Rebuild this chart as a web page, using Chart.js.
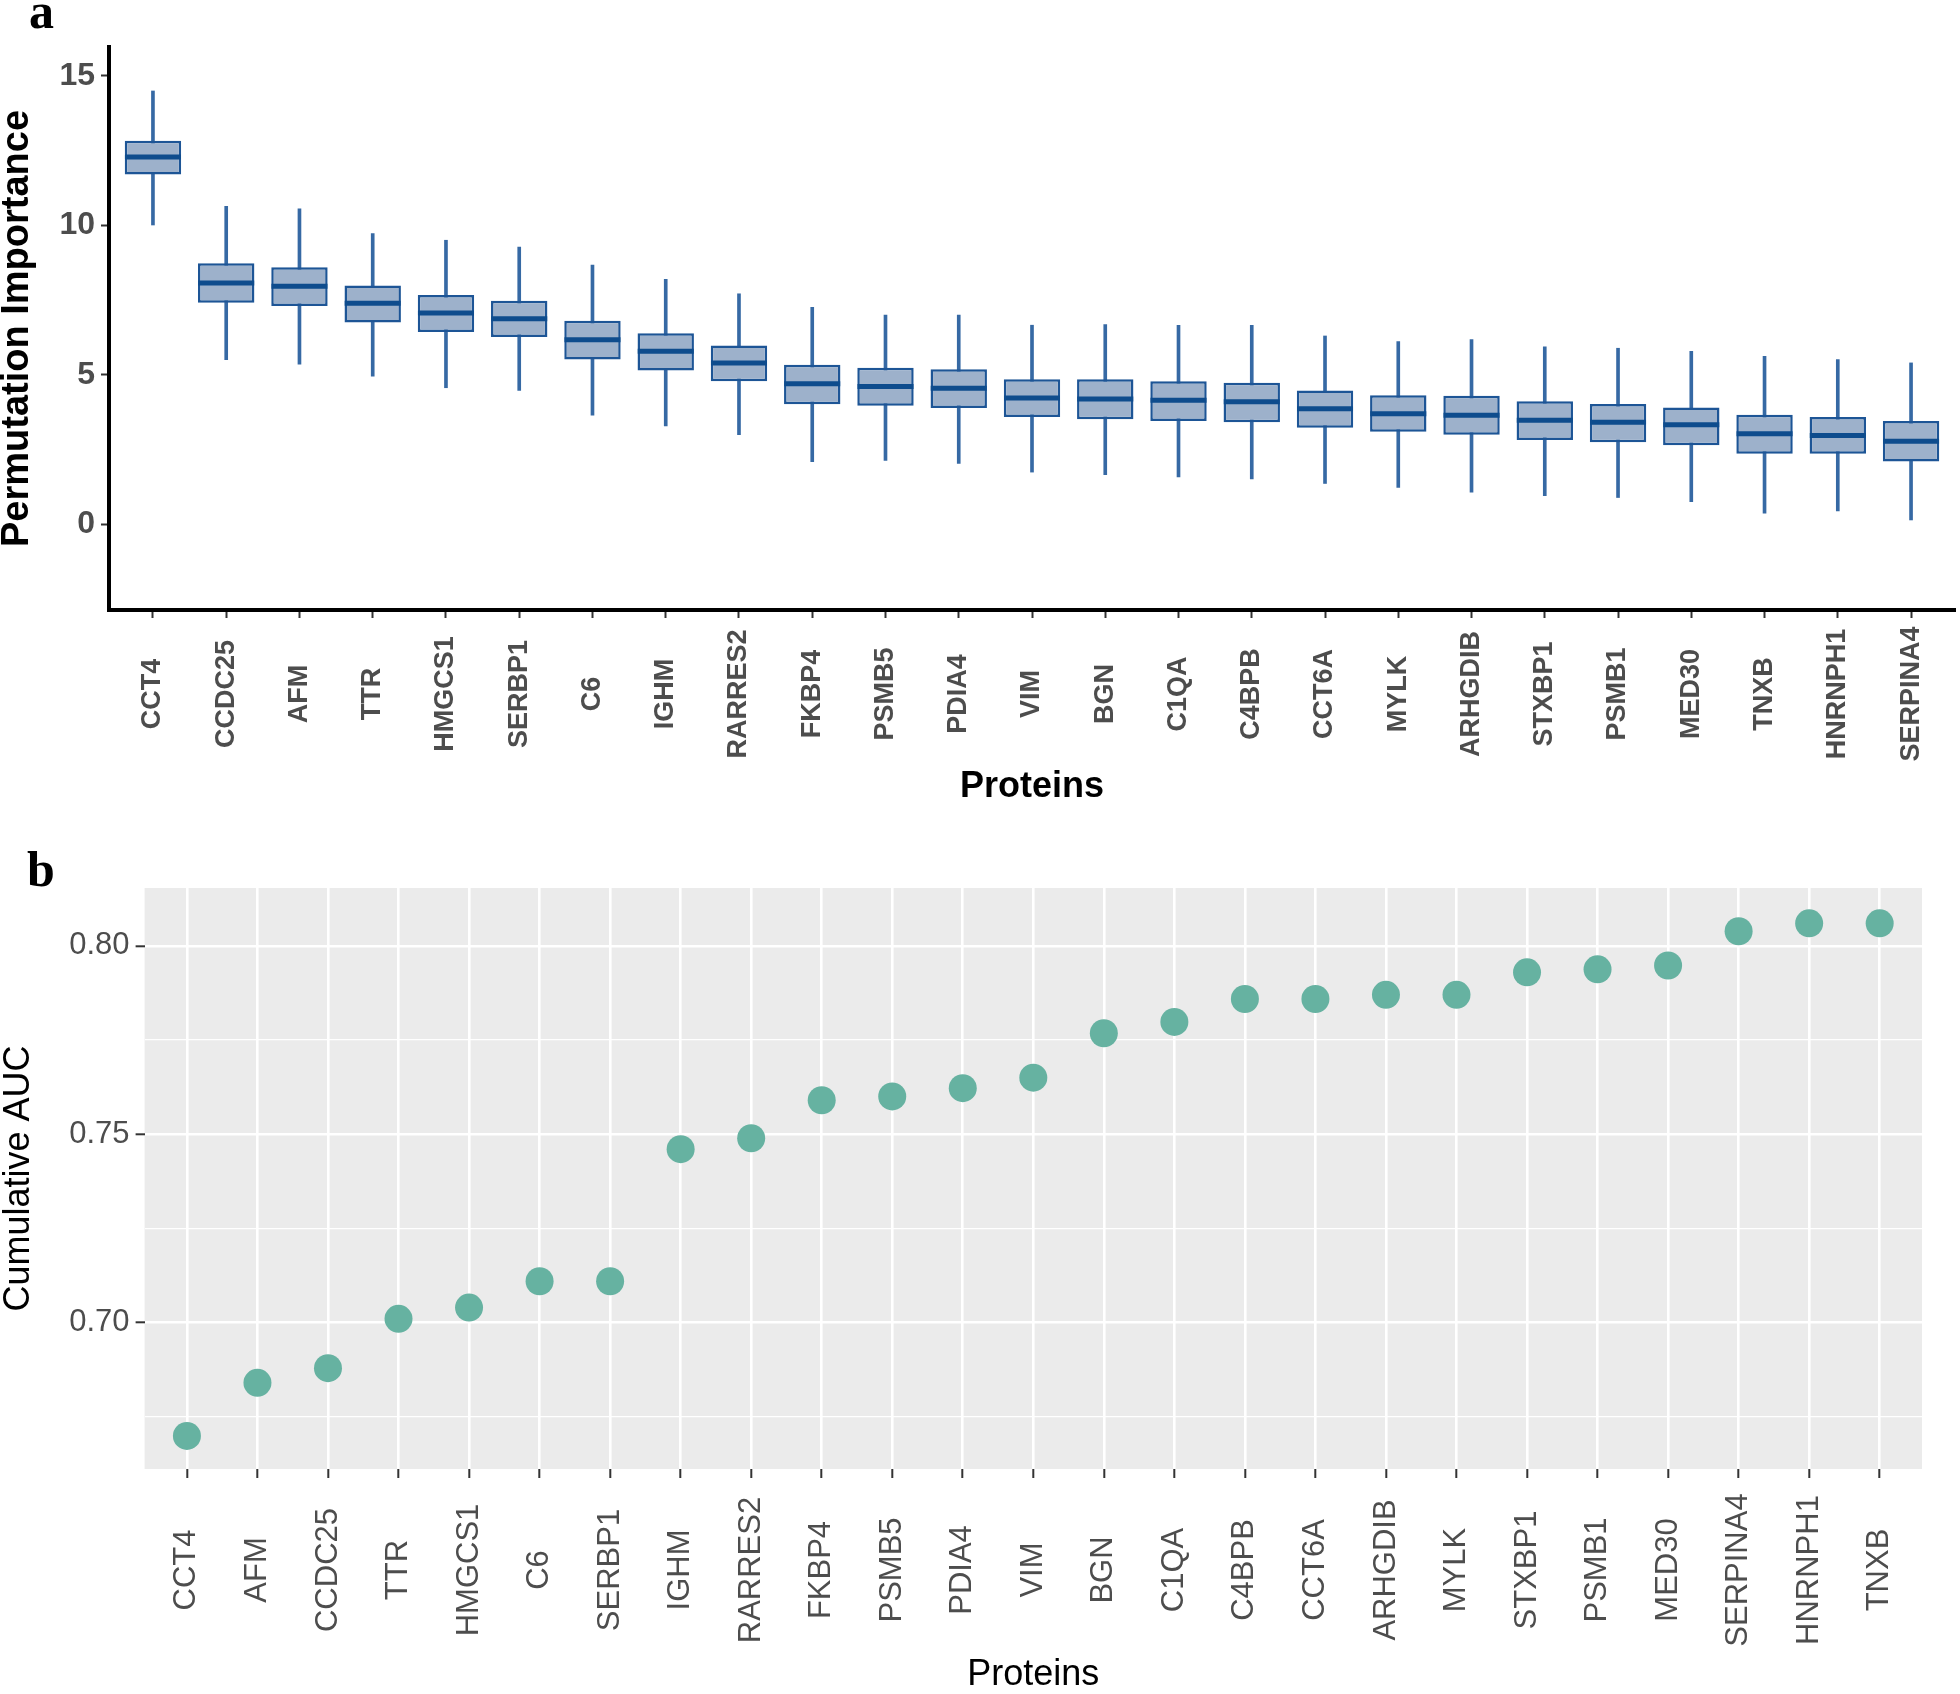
<!DOCTYPE html>
<html lang="en">
<head>
  <meta charset="UTF-8">
  <title>Permutation importance and cumulative AUC</title>
  <script src="https://cdn.jsdelivr.net/npm/chart.js"></script>
  <style>
    body { margin: 0; background: #fff; }
    #wrap { position: relative; width: 1960px; height: 1694px; }
    .panel { position: absolute; left: 0; width: 1960px; }
    #panelA { top: 0; height: 830px; }
    #panelB { top: 830px; height: 864px; }
  </style>
</head>
<body>
  <div id="wrap">
    <div class="panel" id="panelA"><canvas id="chartA"></canvas></div>
    <div class="panel" id="panelB"><canvas id="chartB"></canvas></div>
  </div>

  <script>
    // panel a: permutation importance, one box per protein
    const proteinsA = ['CCT4', 'CCDC25', 'AFM', 'TTR', 'HMGCS1', 'SERBP1', 'C6', 'IGHM', 'RARRES2', 'FKBP4',
      'PSMB5', 'PDIA4', 'VIM', 'BGN', 'C1QA', 'C4BPB', 'CCT6A', 'MYLK', 'ARHGDIB', 'STXBP1',
      'PSMB1', 'MED30', 'TNXB', 'HNRNPH1', 'SERPINA4'];
    const whiskerLow  = [10.01, 5.51, 5.36, 4.96, 4.57, 4.48, 3.65, 3.29, 3.00, 2.10, 2.14, 2.04, 1.75, 1.66, 1.59, 1.52, 1.37, 1.24, 1.08, 0.96, 0.90, 0.76, 0.38, 0.45, 0.15];
    const quart1      = [11.70, 7.41, 7.30, 6.75, 6.43, 6.27, 5.51, 5.15, 4.79, 4.02, 3.97, 3.89, 3.59, 3.52, 3.46, 3.42, 3.23, 3.10, 3.00, 2.82, 2.75, 2.65, 2.36, 2.36, 2.10];
    const medians     = [12.28, 8.07, 7.96, 7.39, 7.07, 6.88, 6.17, 5.79, 5.40, 4.70, 4.61, 4.55, 4.23, 4.19, 4.15, 4.10, 3.87, 3.70, 3.65, 3.48, 3.42, 3.33, 3.03, 2.97, 2.78];
    const quart3      = [12.83, 8.73, 8.60, 7.99, 7.67, 7.48, 6.81, 6.39, 5.98, 5.34, 5.24, 5.19, 4.85, 4.85, 4.79, 4.74, 4.48, 4.32, 4.30, 4.12, 4.03, 3.91, 3.67, 3.59, 3.46];
    const whiskerHigh = [14.49, 10.63, 10.55, 9.72, 9.50, 9.27, 8.67, 8.19, 7.71, 7.26, 7.00, 7.00, 6.66, 6.68, 6.66, 6.66, 6.30, 6.11, 6.18, 5.94, 5.89, 5.79, 5.62, 5.51, 5.40];
    const yTicksA = [0, 5, 10, 15];

    // panel b: cumulative AUC as proteins are added
    const proteinsB = ['CCT4', 'AFM', 'CCDC25', 'TTR', 'HMGCS1', 'C6', 'SERBP1', 'IGHM', 'RARRES2', 'FKBP4',
      'PSMB5', 'PDIA4', 'VIM', 'BGN', 'C1QA', 'C4BPB', 'CCT6A', 'ARHGDIB', 'MYLK', 'STXBP1',
      'PSMB1', 'MED30', 'SERPINA4', 'HNRNPH1', 'TNXB'];
    const cumulativeAuc = [0.6698, 0.6839, 0.6878, 0.7009, 0.7039, 0.7109, 0.7109, 0.7460, 0.7489, 0.7590,
      0.7600, 0.7622, 0.7650, 0.7768, 0.7798, 0.7859, 0.7859, 0.7870, 0.7870, 0.7930,
      0.7938, 0.7948, 0.8039, 0.8060, 0.8060];
    const yTicksB = [0.675, 0.70, 0.725, 0.75, 0.775, 0.80];
    const yMajorB = [0.70, 0.75, 0.80];

    Chart.defaults.font.family = "'Liberation Sans', Arial, Helvetica, sans-serif";
    Chart.defaults.color = '#4d4d4d';

    // rotated category labels, centred under each tick (chart.js right-aligns rotated ticks)
    function categoryLabels(labels, font, offset) {
      return {
        id: 'categoryLabels',
        afterDraw(chart) {
          const sx = chart.scales.x, ctx = chart.ctx;
          ctx.save();
          ctx.font = font;
          ctx.fillStyle = '#4d4d4d';
          ctx.textAlign = 'center';
          ctx.textBaseline = 'middle';
          labels.forEach((lab, i) => {
            ctx.save();
            ctx.translate(sx.getPixelForValue(i), sx.top + offset);
            ctx.rotate(-Math.PI / 2);
            ctx.fillText(lab, 0, 0);
            ctx.restore();
          });
          ctx.restore();
        }
      };
    }

    function panelLetter(letter, x, y) {
      return {
        id: 'panelLetter',
        afterDraw(chart) {
          const ctx = chart.ctx;
          ctx.save();
          ctx.font = "bold 50px 'Liberation Serif', 'Times New Roman', serif";
          ctx.fillStyle = '#000';
          ctx.textBaseline = 'alphabetic';
          ctx.fillText(letter, x, y);
          ctx.restore();
        }
      };
    }

    const greyPanel = {
      id: 'greyPanel',
      beforeDraw(chart) {
        const { ctx, chartArea: a } = chart;
        ctx.save();
        ctx.fillStyle = '#ebebeb';
        ctx.fillRect(a.left, a.top, a.right - a.left, a.bottom - a.top);
        ctx.restore();
      }
    };

    const intTicks = n => s => { s.ticks = Array.from({ length: n }, (_, i) => ({ value: i })); };

    new Chart(document.getElementById('chartA'), {
      type: 'bar',
      data: {
        datasets: [
          {
            // whiskers
            data: proteinsA.map((_, i) => ({ x: i, y: [whiskerLow[i], whiskerHigh[i]] })),
            backgroundColor: '#3669a4',
            borderWidth: 0,
            barThickness: 3,
            grouped: false,
            order: 3
          },
          {
            // boxes
            data: proteinsA.map((_, i) => ({ x: i, y: [quart1[i], quart3[i]] })),
            backgroundColor: '#9db1cb',
            borderColor: '#1d5596',
            borderWidth: 2.5,
            borderSkipped: false,
            barPercentage: 0.77,
            categoryPercentage: 1,
            grouped: false,
            order: 2
          },
          {
            // medians
            type: 'line',
            data: medians.map((m, i) => ({ x: i, y: m })),
            showLine: false,
            pointStyle: 'line',
            pointRadius: 28,
            pointBorderColor: '#0e4c8d',
            pointBorderWidth: 5,
            order: 1
          }
        ]
      },
      options: {
        responsive: true,
        maintainAspectRatio: false,
        animation: false,
        events: [],
        layout: { autoPadding: false, padding: { top: 47, right: 5, left: 0, bottom: 0 } },
        plugins: { legend: { display: false }, tooltip: { enabled: false } },
        scales: {
          x: {
            type: 'linear',
            min: -0.6,
            max: 24.6,
            offset: false,
            afterBuildTicks: intTicks(proteinsA.length),
            afterFit: s => { s.height = 220; },
            ticks: { display: false },
            grid: { offset: false, drawOnChartArea: false, drawTicks: true, tickLength: 8, tickWidth: 2, tickColor: '#333' },
            border: { display: true, color: '#000', width: 4 },
            title: {
              display: true, text: 'Proteins', color: '#000',
              font: { size: 36, weight: 'bold' }, padding: { top: 0, bottom: 21 }
            }
          },
          y: {
            type: 'linear',
            min: -2.86,
            max: 15.96,
            afterBuildTicks: s => { s.ticks = yTicksA.map(v => ({ value: v })); },
            afterFit: s => { s.width = 109; },
            ticks: { color: '#4d4d4d', font: { size: 32, weight: 'bold' }, padding: 6 },
            grid: { drawOnChartArea: false, tickLength: 8, tickWidth: 2, tickColor: '#333' },
            border: { display: true, color: '#000', width: 4 },
            title: {
              display: true, text: 'Permutation Importance', color: '#000',
              font: { size: 38, weight: 'bold', lineHeight: 0.9 }, padding: 0
            }
          }
        }
      },
      plugins: [categoryLabels(proteinsA, "bold 27px 'Liberation Sans', Arial, sans-serif", 84), panelLetter('a', 29, 28)]
    });

    new Chart(document.getElementById('chartB'), {
      type: 'scatter',
      data: {
        datasets: [{
          data: cumulativeAuc.map((v, i) => ({ x: i, y: v })),
          pointRadius: 14,
          pointBackgroundColor: '#66b2a1',
          pointBorderWidth: 0
        }]
      },
      options: {
        responsive: true,
        maintainAspectRatio: false,
        animation: false,
        events: [],
        layout: { autoPadding: false, padding: { top: 58, right: 38, left: 0, bottom: 0 } },
        plugins: { legend: { display: false }, tooltip: { enabled: false } },
        scales: {
          x: {
            type: 'linear',
            min: -0.6,
            max: 24.6,
            afterBuildTicks: intTicks(proteinsB.length),
            afterFit: s => { s.height = 225; },
            ticks: { display: false },
            grid: { color: '#fff', lineWidth: 2.6, drawTicks: true, tickLength: 9, tickWidth: 2, tickColor: '#333' },
            border: { display: false },
            title: {
              display: true, text: 'Proteins', color: '#000',
              font: { size: 36, lineHeight: 1 }, padding: { top: 0, bottom: 1 }
            }
          },
          y: {
            type: 'linear',
            min: 0.661,
            max: 0.8154,
            afterBuildTicks: s => { s.ticks = yTicksB.map(v => ({ value: v })); },
            afterFit: s => { s.width = 144.6; },
            ticks: {
              color: '#4d4d4d', font: { size: 31 }, padding: 6,
              callback: v => yMajorB.includes(v) ? v.toFixed(2) : ''
            },
            grid: {
              color: '#fff',
              lineWidth: c => yMajorB.includes(c.tick && c.tick.value) ? 2.6 : 1.3,
              tickLength: 9,
              tickWidth: 2,
              tickColor: c => yMajorB.includes(c.tick && c.tick.value) ? '#333' : 'rgba(0,0,0,0)'
            },
            border: { display: false },
            title: {
              display: true, text: 'Cumulative AUC', color: '#000',
              font: { size: 36, lineHeight: 1 }, padding: { top: 1 }
            }
          }
        }
      },
      plugins: [greyPanel, categoryLabels(proteinsB, "31px 'Liberation Sans', Arial, sans-serif", 101), panelLetter('b', 27, 56)]
    });
  </script>
</body>
</html>
